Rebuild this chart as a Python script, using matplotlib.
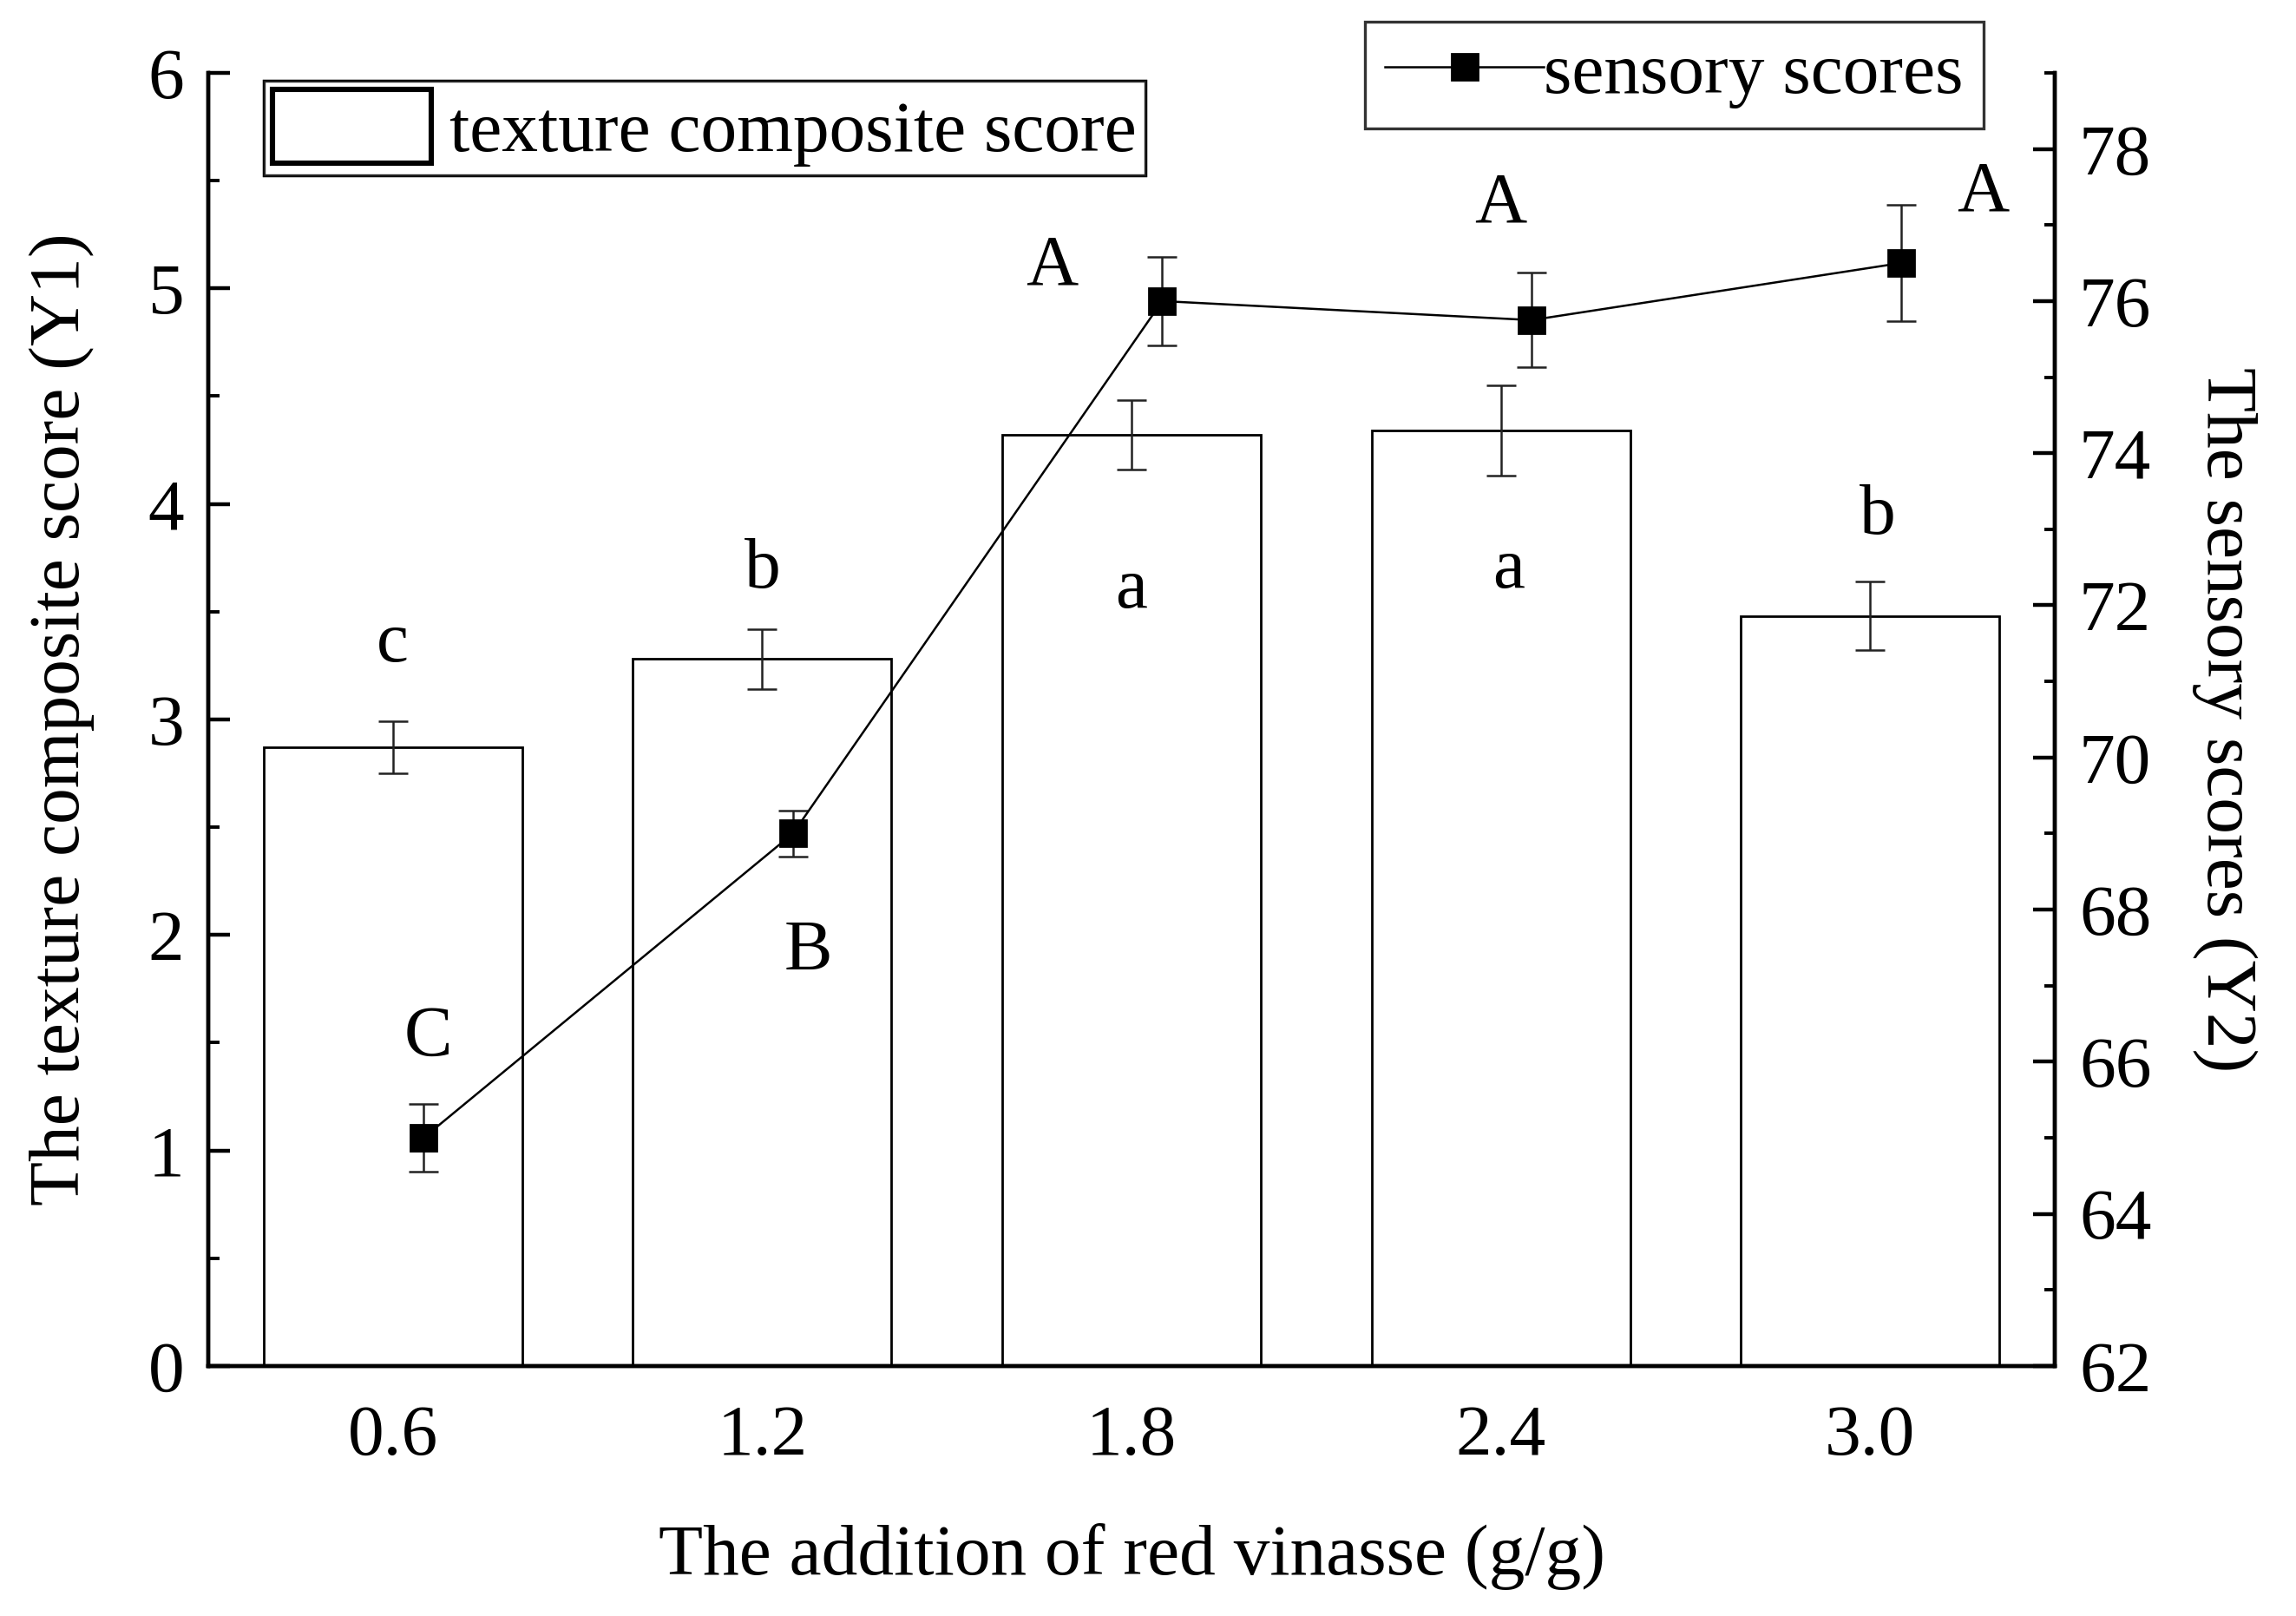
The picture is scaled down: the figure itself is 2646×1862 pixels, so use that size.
import numpy as np
import matplotlib
matplotlib.use('Agg')
import matplotlib.pyplot as plt
from matplotlib.ticker import MultipleLocator

plt.rcParams['font.family'] = ['Liberation Serif', 'DejaVu Serif']
plt.rcParams['mathtext.fontset'] = 'stix'

# data
doses = ['0.6', '1.2', '1.8', '2.4', '3.0']
texture = [2.87, 3.28, 4.32, 4.34, 3.48]
texture_err = [0.12, 0.14, 0.16, 0.21, 0.16]
sensory = [65.0, 69.0, 76.0, 75.75, 76.5]
sensory_err = [0.45, 0.30, 0.58, 0.62, 0.76]
lower_letters = ['c', 'b', 'a', 'a', 'b']
upper_letters = ['C', 'B', 'A', 'A', 'A']

# label placement (left-axis units)
lower_y = [3.35, 3.69, 3.60, 3.69, 3.94]
lower_dx = [0.0, 0.0, 0.0, 0.02, 0.02]
upper_y = [1.52, 1.92, 5.10, 5.39, 5.44]
upper_dx = [0.095, 0.125, -0.215, 0.0, 0.305]

fs = 30
x = np.arange(len(doses))

fig = plt.figure(figsize=(13.23, 9.31), dpi=200)
ax = fig.add_axes([0.0907, 0.1547, 0.8043, 0.8002])
ax2 = ax.twinx()

bars = ax.bar(x, texture, width=0.7, color='white', edgecolor='black', linewidth=1.0,
              label='texture composite score', zorder=2)
ax.errorbar(x, texture, yerr=texture_err, fmt='none', ecolor='#222222', elinewidth=0.9,
            capsize=6, capthick=0.9, zorder=3)

ax2.errorbar(x + 0.083, sensory, yerr=sensory_err, fmt='none', ecolor='#222222', elinewidth=0.9,
             capsize=6, capthick=0.9, zorder=3)
ax2.plot(x + 0.083, sensory, color='black', linewidth=0.9, marker='s', markersize=11,
         label='sensory scores', zorder=4)

for i in range(len(doses)):
    ax.text(x[i] + lower_dx[i], lower_y[i], lower_letters[i], fontsize=fs,
            ha='center', va='center', zorder=5)
    ax.text(x[i] + upper_dx[i], upper_y[i], upper_letters[i], fontsize=fs,
            ha='center', va='center', zorder=5)

ax.set_xlim(-0.5, 4.5)
ax.set_ylim(0, 6)
ax2.set_ylim(62, 79)

ax.set_xticks(x)
ax.set_xticklabels(doses)
ax.yaxis.set_major_locator(MultipleLocator(1))
ax.yaxis.set_minor_locator(MultipleLocator(0.5))
ax2.yaxis.set_major_locator(MultipleLocator(2))
ax2.yaxis.set_minor_locator(MultipleLocator(1))

for a in (ax, ax2):
    for s in a.spines.values():
        s.set_linewidth(1.6)
    a.tick_params(which='major', direction='in', length=9, width=1.6, labelsize=fs, pad=10)
    a.tick_params(which='minor', direction='in', length=4.5, width=1.4)
ax.spines['top'].set_visible(False)
ax2.spines['top'].set_visible(False)
ax.tick_params(axis='x', pad=16)

ax.set_xlabel('The addition of red vinasse (g/g)', fontsize=fs, labelpad=22)
ax.set_ylabel('The texture composite score (Y1)', fontsize=fs, labelpad=22)
ax2.set_ylabel('The sensory scores (Y2)', fontsize=fs, rotation=-90, labelpad=44)

leg1 = ax.legend(handles=[bars], loc='upper left', bbox_to_anchor=(0.03, 0.994),
                 fontsize=fs, frameon=True, fancybox=False, edgecolor='black',
                 borderaxespad=0, handlelength=2.2, handleheight=1.2, handletextpad=0.25,
                 borderpad=0.12)
leg1.get_frame().set_linewidth(1.2)
leg1.legend_handles[0].set_linewidth(2.2)
ax.add_artist(leg1)

leg2 = ax2.legend(loc='upper right', bbox_to_anchor=(0.9615, 1.0396), fontsize=fs,
                  frameon=True, fancybox=False, edgecolor='black', borderaxespad=0,
                  handlelength=2.2, handletextpad=0.0, borderpad=0.28)
leg2.get_frame().set_linewidth(1.2)

fig.savefig('out.png', dpi=200)
